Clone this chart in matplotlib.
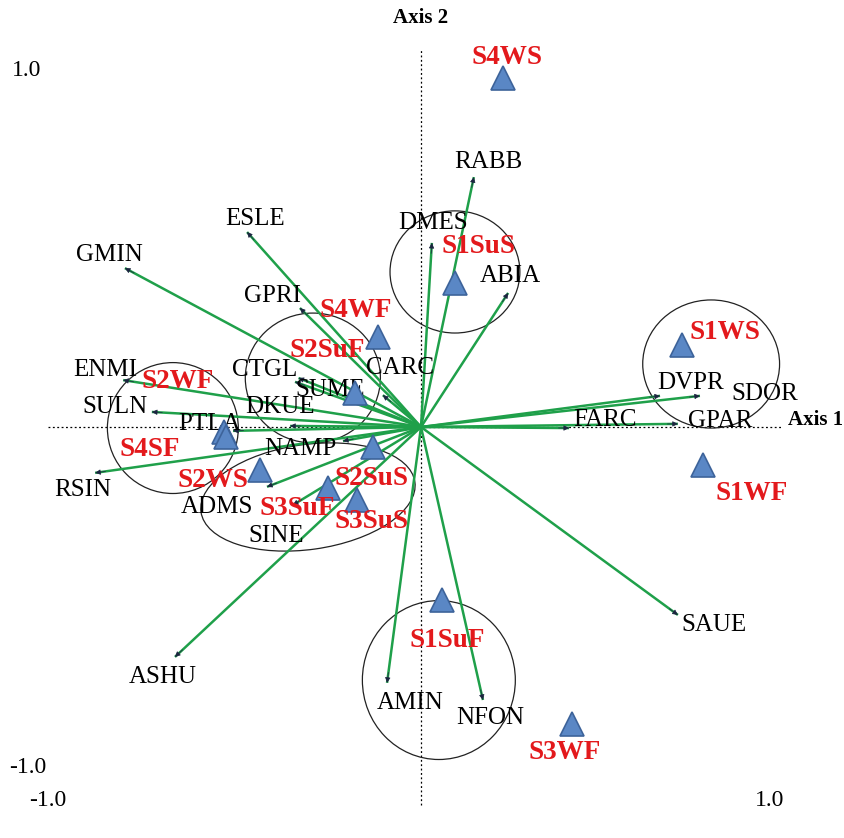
import matplotlib.pyplot as plt
from matplotlib.patches import Ellipse

plt.rcParams['font.family'] = ['Liberation Serif', 'DejaVu Serif']

# environmental variables: arrow tips (axis 1, axis 2)
var_names = ['GMIN', 'ESLE', 'GPRI', 'ENMI', 'SULN', 'CTGL', 'SUME', 'CARC',
             'DKUE', 'PTLA', 'NAMP', 'RSIN', 'ADMS', 'SINE', 'ASHU', 'AMIN',
             'NFON', 'SAUE', 'FARC', 'GPAR', 'DVPR', 'SDOR', 'ABIA', 'DMES', 'RABB']
var_x = [-0.846, -0.497, -0.346, -0.851, -0.769, -0.350, -0.360, -0.109,
         -0.374, -0.537, -0.223, -0.931, -0.440, -0.366, -0.703, -0.097,
         0.177, 0.734, 0.423, 0.734, 0.683, 0.797, 0.249, 0.031, 0.151]
var_y = [0.454, 0.557, 0.340, 0.134, 0.043, 0.140, 0.129, 0.091,
         0.003, -0.011, -0.040, -0.131, -0.171, -0.223, -0.657, -0.731,
         -0.780, -0.537, -0.003, 0.009, 0.089, 0.089, 0.383, 0.526, 0.714]

# sites (samples)
site_names = ['S4WS', 'S1SuS', 'S4WF', 'S2SuF', 'S1WS', 'S1WF', 'S2WF', 'S4SF',
              'S2WS', 'S2SuS', 'S3SuF', 'S3SuS', 'S1SuF', 'S3WF']
site_x = [0.234, 0.097, -0.123, -0.189, 0.746, 0.806, -0.563, -0.557,
          -0.460, -0.137, -0.266, -0.183, 0.060, 0.431]
site_y = [0.997, 0.411, 0.257, 0.097, 0.234, -0.109, -0.014, -0.029,
          -0.123, -0.057, -0.174, -0.209, -0.494, -0.849]

# label placement
var_lx = [-0.889, -0.474, -0.423, -0.903, -0.874, -0.446, -0.260, -0.060,
          -0.403, -0.603, -0.346, -0.966, -0.583, -0.414, -0.737, -0.031,
          0.197, 0.837, 0.526, 0.854, 0.769, 0.983, 0.254, 0.034, 0.191]
var_ly = [0.491, 0.594, 0.374, 0.163, 0.057, 0.163, 0.106, 0.169,
          0.057, 0.009, -0.063, -0.180, -0.229, -0.311, -0.714, -0.789,
          -0.831, -0.566, 0.020, 0.017, 0.126, 0.094, 0.431, 0.583, 0.757]
site_lx = [0.246, 0.163, -0.186, -0.269, 0.869, 0.946, -0.694, -0.774,
           -0.594, -0.140, -0.354, -0.140, 0.074, 0.411]
site_ly = [1.057, 0.517, 0.334, 0.220, 0.269, -0.189, 0.131, -0.063,
           -0.154, -0.146, -0.234, -0.271, -0.609, -0.929]

# group outlines: (cx, cy, width, height, angle)
groups = [(0.097, 0.443, 0.371, 0.349, 0),
          (0.829, 0.180, 0.391, 0.366, 0),
          (-0.309, 0.140, 0.386, 0.371, 0),
          (-0.709, -0.003, 0.374, 0.374, 0),
          (-0.323, -0.200, 0.617, 0.300, 8),
          (0.051, -0.723, 0.437, 0.454, 0)]

green = '#1fa04a'

fig = plt.figure(figsize=(8.45, 8.38), dpi=100, facecolor='white')
ax = fig.add_axes([0, 0, 1, 1])
ax.set_xlim(-421 / 350, 424 / 350)
ax.set_ylim(-411 / 350, 427 / 350)
ax.axis('off')

# dotted axes
ax.plot([0, 0], [-1.08, 1.077], color='black', ls=(0, (1.5, 2)), lw=0.9, zorder=1)
ax.plot([-1.066, 1.035], [0, 0], color='black', ls=(0, (1.5, 2)), lw=0.9, zorder=1)

for cx, cy, w, h, ang in groups:
    ax.add_patch(Ellipse((cx, cy), w, h, angle=ang, fill=False,
                         edgecolor='#222222', lw=0.9, zorder=2))

# arrows
for x, y in zip(var_x, var_y):
    ax.plot([0, x], [0, y], color=green, lw=1.8, zorder=3, solid_capstyle='butt')
    n = (x * x + y * y) ** 0.5
    ax.annotate('', xy=(x, y), xytext=(x - 0.03 * x / n, y - 0.03 * y / n),
                arrowprops=dict(arrowstyle='-|>', color='#1c2440', lw=0.5,
                                mutation_scale=8, shrinkA=0, shrinkB=0),
                zorder=4)

for name, lx, ly in zip(var_names, var_lx, var_ly):
    ax.text(lx, ly, name, fontsize=18, ha='center', va='center',
            color='black', zorder=5)

# sites
ax.plot(site_x, site_y, ls='none', marker='^', markersize=17,
        markerfacecolor='#5a87c5', markeredgecolor='#3d639a',
        markeredgewidth=1.2, zorder=6)

for name, lx, ly in zip(site_names, site_lx, site_ly):
    ax.text(lx, ly, name, fontsize=19.5, fontweight='bold', ha='center',
            va='center', color='#e3191c', zorder=7)

# axis titles and corner values
ax.text(0, 1.169, 'Axis 2', fontsize=15, fontweight='bold', ha='center', va='center')
ax.text(1.128, 0.02, 'Axis 1', fontsize=15, fontweight='bold', ha='center', va='center')
ax.text(-1.126, 1.02, '1.0', fontsize=17, ha='center', va='center')
ax.text(-1.123, -0.974, '-1.0', fontsize=17, ha='center', va='center')
ax.text(-1.066, -1.066, '-1.0', fontsize=17, ha='center', va='center')
ax.text(0.997, -1.066, '1.0', fontsize=17, ha='center', va='center')

fig.savefig('out.png', dpi=100, facecolor='white')
